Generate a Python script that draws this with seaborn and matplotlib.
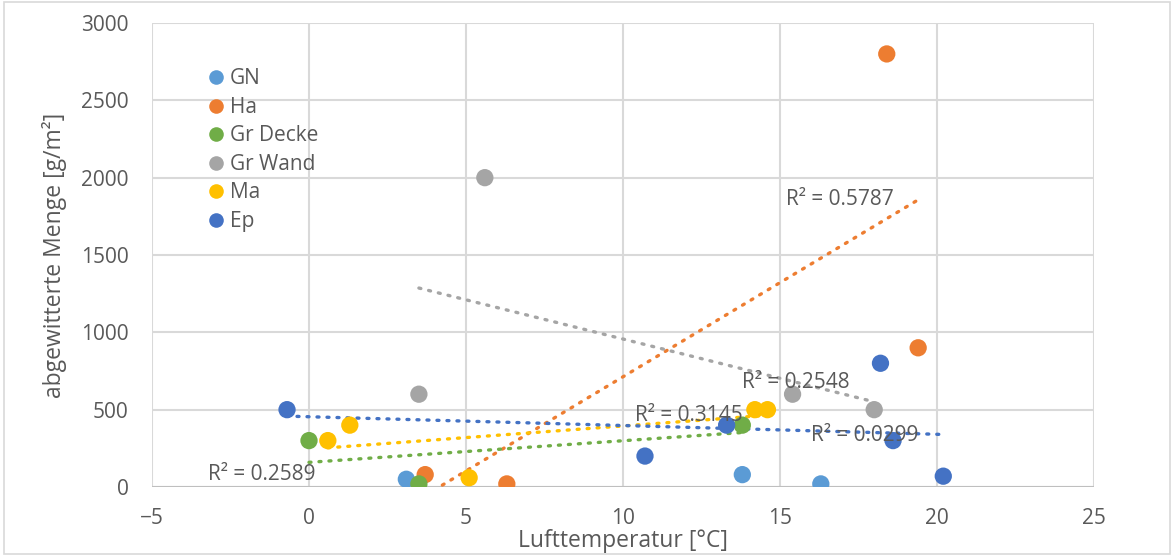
import numpy as np
import pandas as pd
import matplotlib
matplotlib.use("Agg")
import matplotlib.pyplot as plt
import seaborn as sns
from matplotlib.lines import Line2D

series_names = ["GN", "Ha", "Gr Decke", "Gr Wand", "Ma", "Ep"]
colors = ["#5B9BD5", "#ED7D31", "#70AD47", "#A5A5A5", "#FFC000", "#4472C4"]

gn_x = [3.1, 13.8, 16.3]
gn_y = [50, 80, 20]
ha_x = [3.7, 6.3, 18.4, 19.4]
ha_y = [80, 20, 2800, 900]
grd_x = [0.0, 3.5, 13.8]
grd_y = [300, 20, 400]
grw_x = [5.6, 3.5, 15.4, 18.0]
grw_y = [2000, 600, 600, 500]
ma_x = [0.6, 1.3, 5.1, 14.2, 14.6]
ma_y = [300, 400, 60, 500, 500]
ep_x = [-0.7, 10.7, 13.3, 18.2, 18.6, 20.2]
ep_y = [500, 200, 400, 800, 300, 70]

xs = [gn_x, ha_x, grd_x, grw_x, ma_x, ep_x]
ys = [gn_y, ha_y, grd_y, grw_y, ma_y, ep_y]
has_trend = [False, True, True, True, True, True]
# label positions (data coords) for R² annotations
label_pos = {"Ha": (16.9, 1859), "Gr Decke": (-1.5, 78), "Gr Wand": (15.5, 674),
             "Ma": (12.1, 460), "Ep": (17.7, 330)}

x_ticks = [-5, 0, 5, 10, 15, 20, 25]
y_ticks = [0, 500, 1000, 1500, 2000, 2500, 3000]

rows = []
for name, xv, yv in zip(series_names, xs, ys):
    for a, b in zip(xv, yv):
        rows.append({"Serie": name, "T": a, "M": b})
df = pd.DataFrame(rows)

sns.set_style("white")
plt.rcParams["font.family"] = ["Open Sans", "DejaVu Sans"]
txt = "#595959"

fig = plt.figure(figsize=(11.74, 5.55), dpi=100)
ax = fig.add_axes([152/1174, 1-487/555, 942/1174, 464/555])

ax.set_xlim(-5, 25)
ax.set_ylim(0, 3000)
ax.set_xticks(x_ticks)
ax.set_yticks(y_ticks)
ax.grid(True, color="#D9D9D9", lw=1.5)
ax.set_axisbelow(True)
for s in ax.spines.values():
    s.set_visible(False)
ax.axhline(0, color="#BFBFBF", lw=1.5, zorder=1)

# trendlines
for name, xv, yv, col, tr in zip(series_names, xs, ys, colors, has_trend):
    if not tr:
        continue
    xa = np.array(xv, float); ya = np.array(yv, float)
    k, d = np.polyfit(xa, ya, 1)
    xl = np.linspace(xa.min(), xa.max(), 200)
    yl = k * xl + d
    pred = k * xa + d
    r2 = 1 - np.sum((ya - pred) ** 2) / np.sum((ya - ya.mean()) ** 2)
    ax.plot(xl, yl, color=col, lw=2.4, linestyle=(0, (0.6, 2.4)),
            dash_capstyle="round", zorder=2)
    lx, ly = label_pos[name]
    ax.text(lx, ly, f"R² = {r2:.4f}", color=txt, fontsize=15,
            ha="center", va="center", zorder=5)

sns.scatterplot(data=df, x="T", y="M", hue="Serie", hue_order=series_names,
                palette=colors, s=155, edgecolor="none", ax=ax, legend=False,
                zorder=3)

ax.tick_params(axis="x", length=0, labelsize=15, labelcolor=txt, pad=15)
ax.tick_params(axis="y", length=0, labelsize=15, labelcolor=txt, pad=17)
ax.set_xlabel("Lufttemperatur [°C]", fontsize=16.5, color=txt, labelpad=0)
ax.set_ylabel("abgewitterte Menge [g/m²]", fontsize=16.5, color=txt, labelpad=10)

handles = [Line2D([], [], marker="o", linestyle="none", markersize=10.5,
                  markerfacecolor=c, markeredgecolor="none") for c in colors]
leg = ax.legend(handles, series_names, loc="upper left",
                bbox_to_anchor=(0.047, 0.92), frameon=False, fontsize=15,
                handletextpad=0.1, labelspacing=0.36, handlelength=1.1,
                borderaxespad=0)
for t in leg.get_texts():
    t.set_color(txt)

fig.patches.append(plt.Rectangle((4/1174, 1/555), 1166/1174, 552/555,
                                 transform=fig.transFigure, fill=False,
                                 edgecolor="#D9D9D9", lw=1.2))

fig.savefig("out.png", dpi=100)
